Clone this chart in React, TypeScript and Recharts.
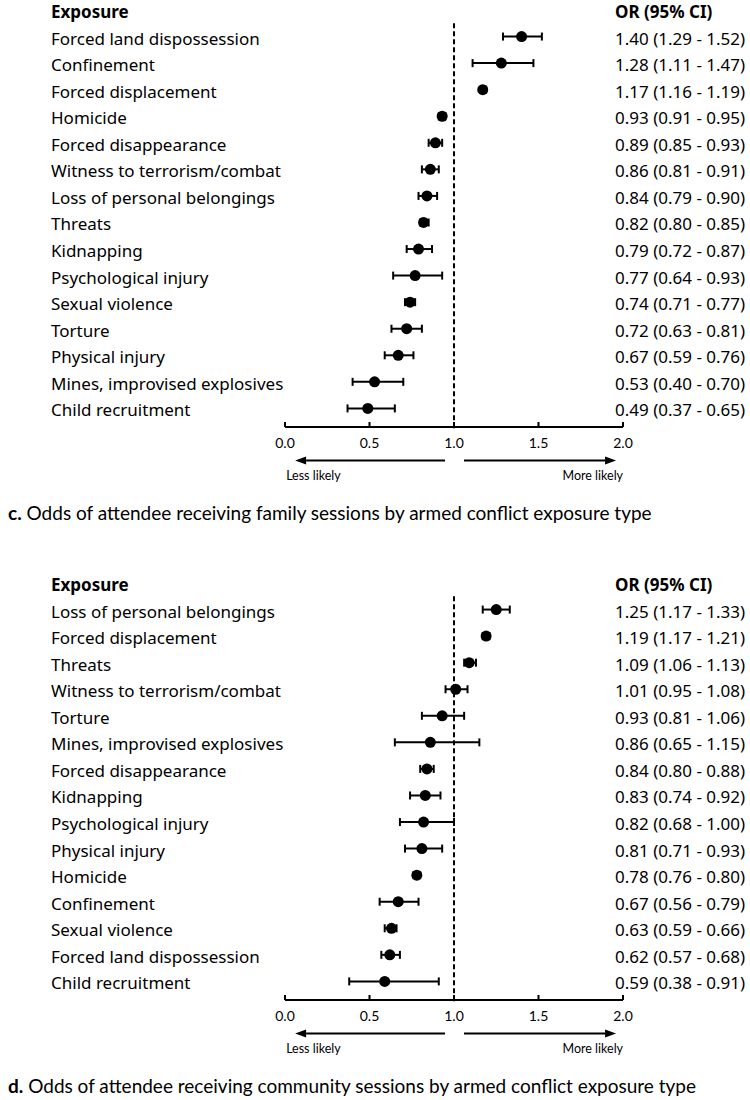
import { ErrorBar, ReferenceLine, Scatter, ScatterChart, XAxis, YAxis } from "recharts";

// family sessions (panel c)
const familyExposures = [
  "Forced land dispossession",
  "Confinement",
  "Forced displacement",
  "Homicide",
  "Forced disappearance",
  "Witness to terrorism/combat",
  "Loss of personal belongings",
  "Threats",
  "Kidnapping",
  "Psychological injury",
  "Sexual violence",
  "Torture",
  "Physical injury",
  "Mines, improvised explosives",
  "Child recruitment",
];
const familyOr = [1.4, 1.28, 1.17, 0.93, 0.89, 0.86, 0.84, 0.82, 0.79, 0.77, 0.74, 0.72, 0.67, 0.53, 0.49];
const familyLow = [1.29, 1.11, 1.16, 0.91, 0.85, 0.81, 0.79, 0.8, 0.72, 0.64, 0.71, 0.63, 0.59, 0.4, 0.37];
const familyHigh = [1.52, 1.47, 1.19, 0.95, 0.93, 0.91, 0.9, 0.85, 0.87, 0.93, 0.77, 0.81, 0.76, 0.7, 0.65];

// community sessions (panel d)
const communityExposures = [
  "Loss of personal belongings",
  "Forced displacement",
  "Threats",
  "Witness to terrorism/combat",
  "Torture",
  "Mines, improvised explosives",
  "Forced disappearance",
  "Kidnapping",
  "Psychological injury",
  "Physical injury",
  "Homicide",
  "Confinement",
  "Sexual violence",
  "Forced land dispossession",
  "Child recruitment",
];
const communityOr = [1.25, 1.19, 1.09, 1.01, 0.93, 0.86, 0.84, 0.83, 0.82, 0.81, 0.78, 0.67, 0.63, 0.62, 0.59];
const communityLow = [1.17, 1.17, 1.06, 0.95, 0.81, 0.65, 0.8, 0.74, 0.68, 0.71, 0.76, 0.56, 0.59, 0.57, 0.38];
const communityHigh = [1.33, 1.21, 1.13, 1.08, 1.06, 1.15, 0.88, 0.92, 1.0, 0.93, 0.8, 0.79, 0.66, 0.68, 0.91];

const xTicks = [0, 0.5, 1, 1.5, 2];
const rowTicks = [-1, 0, 1, 2, 3, 4, 5, 6, 7, 8, 9, 10, 11, 12, 13, 14];

const LABEL_FONT = "'Noto Sans', 'Open Sans', sans-serif";
const AXIS_FONT = "Lato, 'Noto Sans', sans-serif";

function AxisTick(p: any) {
  return (
    <g>
      <line x1={p.x} y1={p.y} x2={p.x} y2={p.y - 5} stroke="#000" strokeWidth={2} />
      <text
        x={p.x}
        y={p.y + 15}
        textAnchor="middle"
        dominantBaseline="central"
        fontFamily={AXIS_FONT}
        fontSize={14}
        fill="#000"
      >
        {Number(p.payload.value).toFixed(1)}
      </text>
    </g>
  );
}

const arrowShape = (dir: "left" | "right", text: string) => (p: any) => {
  const lo = Math.min(p.x1, p.x2);
  const hi = Math.max(p.x1, p.x2);
  const y = p.y1;
  const tip = dir === "left" ? lo : hi;
  const tail = dir === "left" ? hi : lo;
  const back = dir === "left" ? 11 : -11;
  return (
    <g>
      <line x1={tail} y1={y} x2={tip + back} y2={y} stroke="#000" strokeWidth={2} />
      <polygon points={`${tip},${y} ${tip + back},${y - 4} ${tip + back},${y + 4}`} fill="#000" />
      <text
        x={dir === "left" ? tip - 9 : tip + 7}
        y={y + 15}
        textAnchor={dir === "left" ? "start" : "end"}
        dominantBaseline="central"
        fontFamily={AXIS_FONT}
        fontSize={12.5}
        fill="#000"
      >
        {text}
      </text>
    </g>
  );
};

interface PanelProps {
  exposures: string[];
  or: number[];
  low: number[];
  high: number[];
}

function ForestPanel({ exposures, or, low, high }: PanelProps) {
  const data = exposures.map((name, i) => ({
    row: i,
    name,
    or: or[i],
    err: [or[i] - low[i], high[i] - or[i]],
  }));

  const RowTick = (p: any) => {
    const v = p.payload.value as number;
    const header = v < 0;
    const left = header ? "Exposure" : exposures[v];
    const right = header
      ? "OR (95% CI)"
      : `${or[v].toFixed(2)} (${low[v].toFixed(2)} - ${high[v].toFixed(2)})`;
    return (
      <g fontFamily={LABEL_FONT} fontSize={17} fontWeight={header ? 700 : 400} fill="#000">
        <text x={p.x - 234} y={p.y + 1.5} dominantBaseline="central">
          {left}
        </text>
        <text x={p.x + 330} y={p.y + 1.5} dominantBaseline="central">
          {right}
        </text>
      </g>
    );
  };

  return (
    <ScatterChart width={750} height={500} margin={{ top: 10, right: 127, bottom: 43, left: 0 }}>
      <XAxis
        type="number"
        dataKey="or"
        domain={[0, 2]}
        ticks={xTicks}
        interval={0}
        allowDataOverflow
        height={30}
        tickLine={false}
        tickSize={0}
        tickMargin={0}
        axisLine={{ stroke: "#000", strokeWidth: 2 }}
        tick={<AxisTick />}
      />
      <YAxis
        yAxisId="left"
        type="number"
        dataKey="row"
        domain={[-1, 14.7]}
        reversed
        allowDataOverflow
        ticks={rowTicks}
        interval={0}
        width={285}
        axisLine={false}
        tickLine={false}
        tickSize={0}
        tickMargin={0}
        tick={<RowTick />}
      />
      <ReferenceLine
        yAxisId="left"
        segment={[
          { x: 1, y: -0.5 },
          { x: 1, y: 14.78 },
        ]}
        stroke="#000"
        strokeWidth={2}
        strokeDasharray="5 3"
        ifOverflow="visible"
      />
      <ReferenceLine
        yAxisId="left"
        segment={[
          { x: 0.06, y: 15.96 },
          { x: 0.947, y: 15.96 },
        ]}
        ifOverflow="visible"
        shape={arrowShape("left", "Less likely")}
      />
      <ReferenceLine
        yAxisId="left"
        segment={[
          { x: 1.059, y: 15.96 },
          { x: 1.959, y: 15.96 },
        ]}
        ifOverflow="visible"
        shape={arrowShape("right", "More likely")}
      />
      <Scatter
        yAxisId="left"
        data={data}
        isAnimationActive={false}
        shape={(p: any) => <circle cx={p.cx} cy={p.cy} r={5.5} fill="#000" />}
      >
        <ErrorBar dataKey="err" direction="x" width={4} stroke="#000" strokeWidth={2} />
      </Scatter>
    </ScatterChart>
  );
}

function Caption({ top, letter, text }: { top: number; letter: string; text: string }) {
  return (
    <svg width={750} height={30} style={{ position: "absolute", left: 0, top }}>
      <text x={8} y={15} dominantBaseline="central" fontFamily={AXIS_FONT} fontSize={19} fill="#000">
        <tspan fontWeight={700}>{letter}</tspan>
        {text}
      </text>
    </svg>
  );
}

export default function App() {
  return (
    <div style={{ position: "absolute", left: 0, top: 0, width: 750, height: 1100, background: "#fff" }}>
      <div style={{ position: "absolute", left: 0, top: 0 }}>
        <ForestPanel exposures={familyExposures} or={familyOr} low={familyLow} high={familyHigh} />
      </div>
      <Caption
        top={497}
        letter="c."
        text=" Odds of attendee receiving family sessions by armed conflict exposure type"
      />
      <div style={{ position: "absolute", left: 0, top: 573 }}>
        <ForestPanel exposures={communityExposures} or={communityOr} low={communityLow} high={communityHigh} />
      </div>
      <Caption
        top={1070}
        letter="d."
        text=" Odds of attendee receiving community sessions by armed conflict exposure type"
      />
    </div>
  );
}
